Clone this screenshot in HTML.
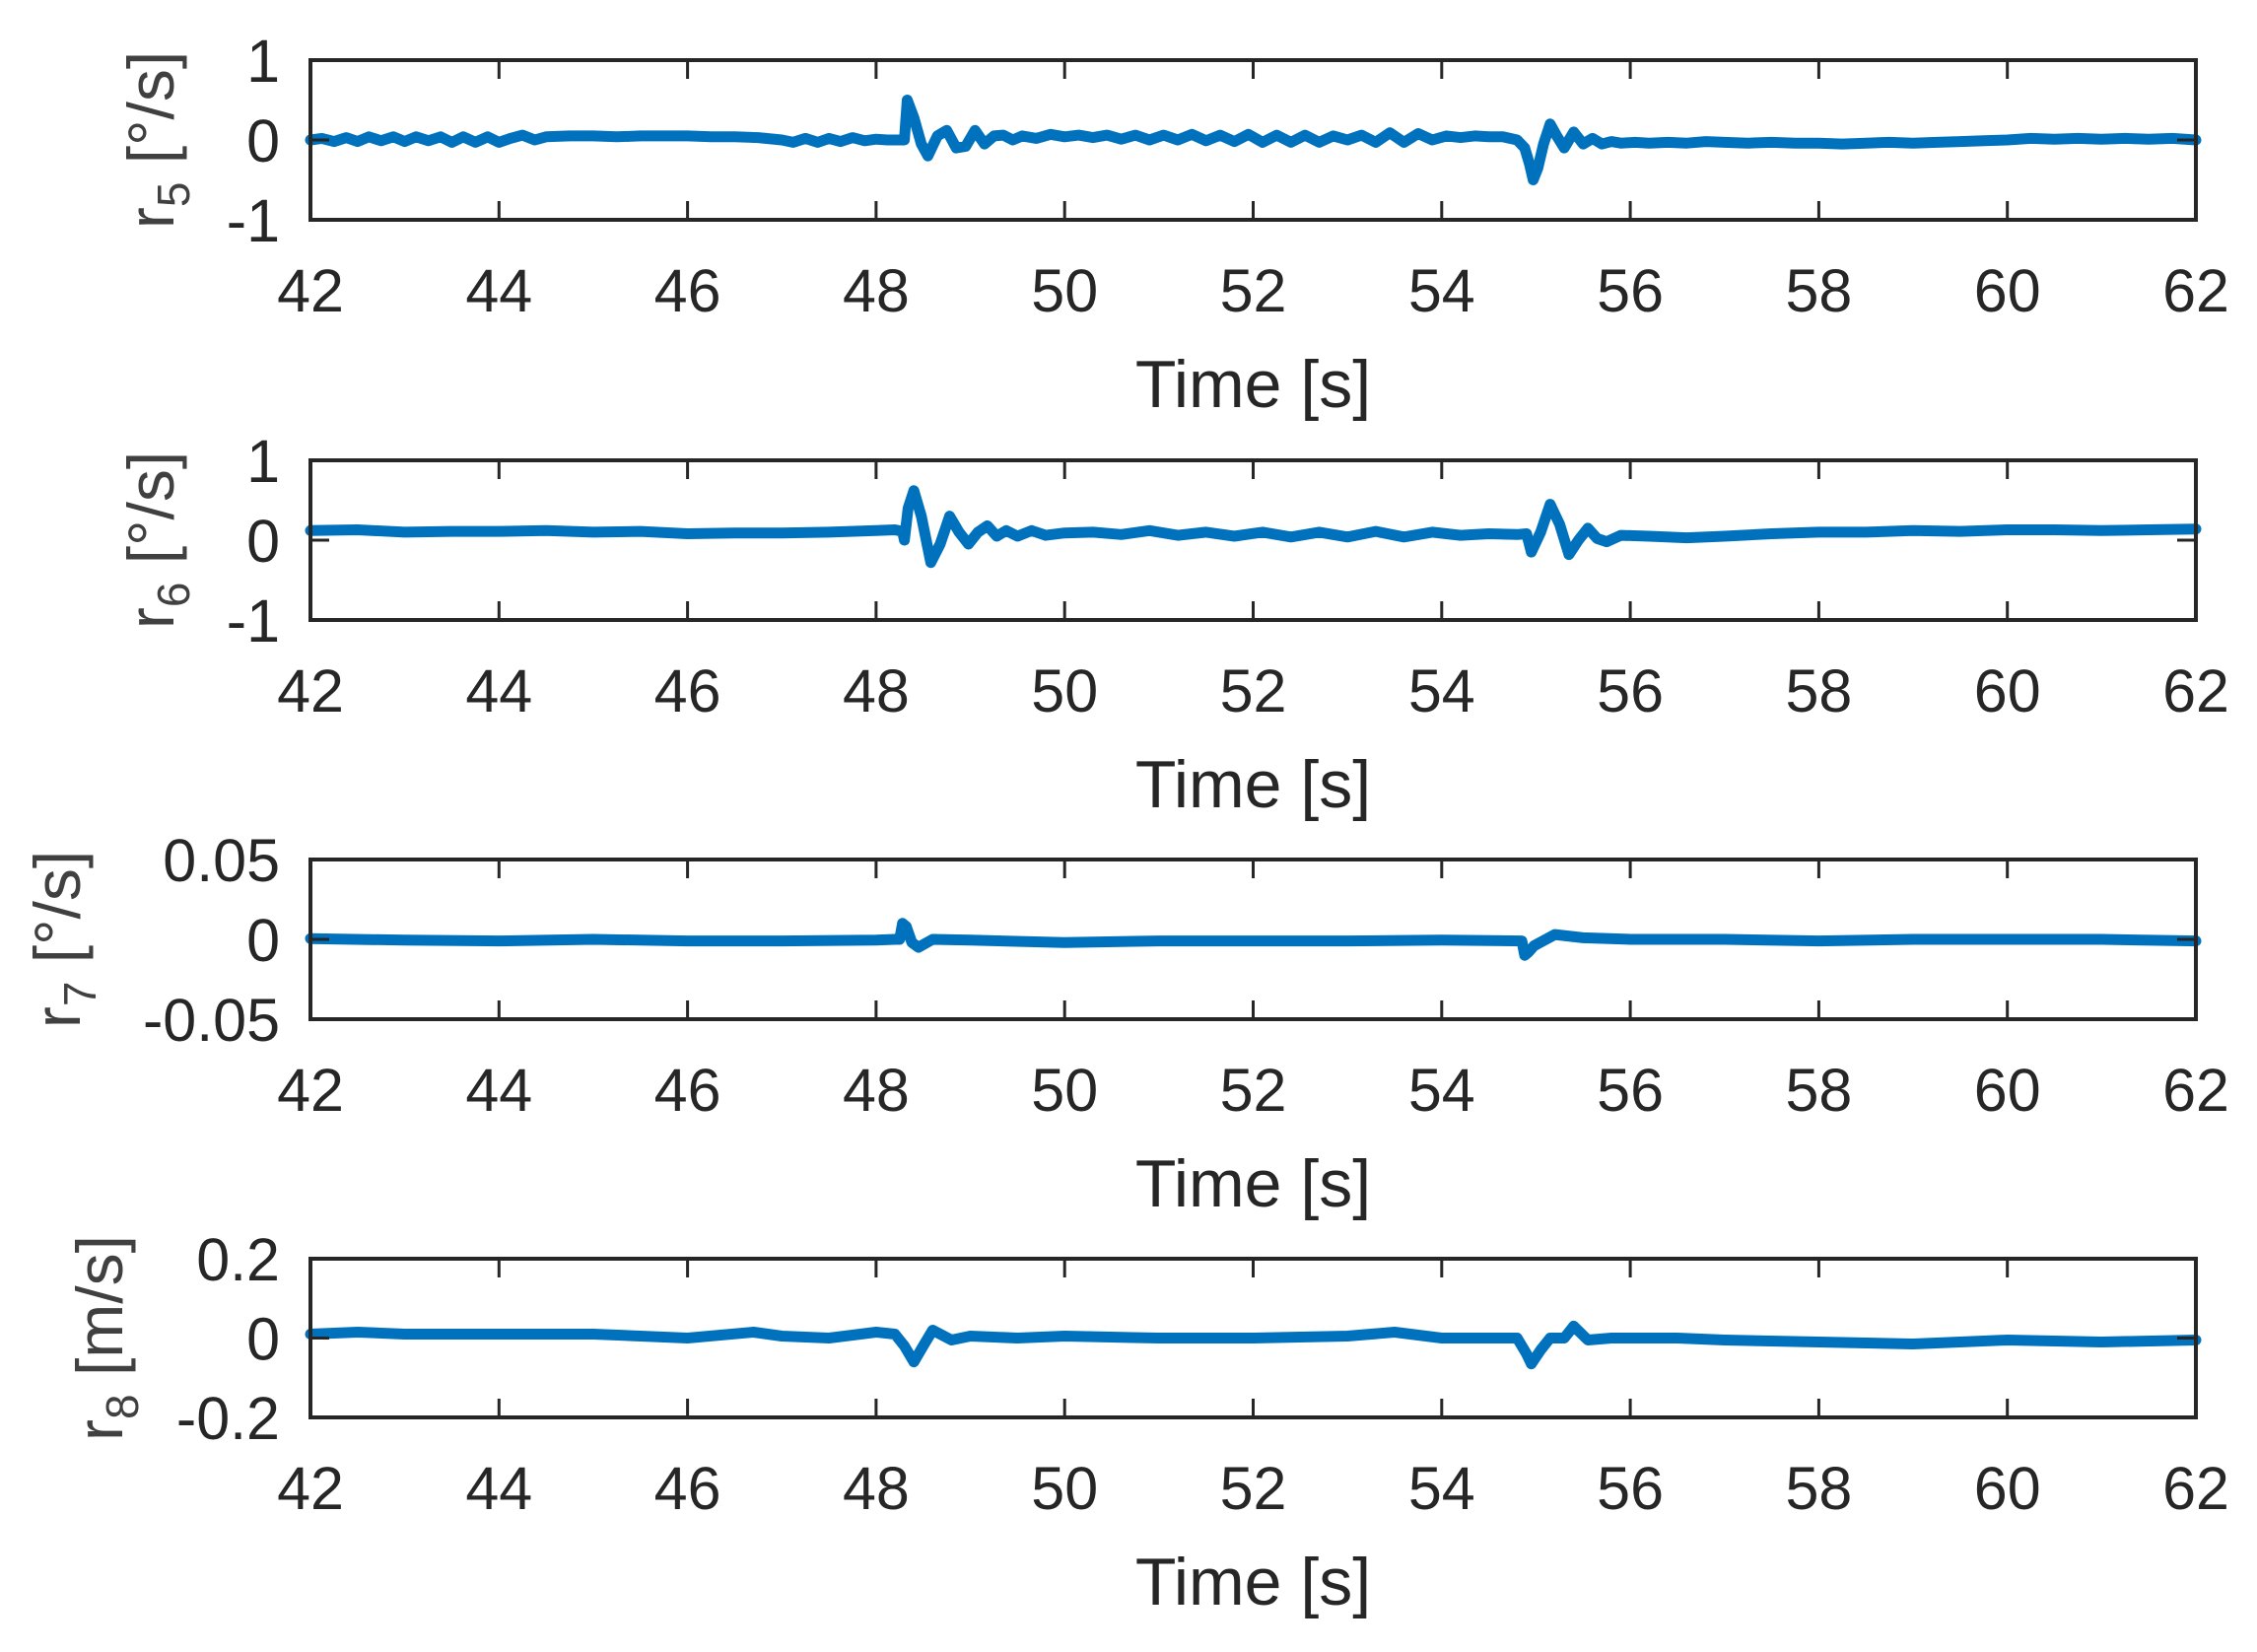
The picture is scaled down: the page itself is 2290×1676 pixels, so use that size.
<!DOCTYPE html>
<html><head><meta charset="utf-8"><style>
html,body{margin:0;padding:0;background:#fff;}
svg{display:block;}
text{font-family:"Liberation Sans",Arial,sans-serif;}
</style></head><body>
<svg id="chart" width="2290" height="1676" viewBox="0 0 2290 1676" xmlns="http://www.w3.org/2000/svg"></svg>
<script>
const xTicks = [42,44,46,48,50,52,54,56,58,60,62];
const r5Times = [42,42.12,42.25,42.38,42.5,42.62,42.75,42.88,43,43.12,43.25,43.38,43.5,43.62,43.75,43.88,44,44.12,44.25,44.38,44.5,44.75,45,45.25,45.5,45.75,46,46.25,46.5,46.75,47,47.12,47.25,47.38,47.5,47.62,47.75,47.88,48,48.12,48.25,48.3,48.33,48.4,48.48,48.55,48.65,48.75,48.85,48.95,49.05,49.15,49.25,49.35,49.45,49.55,49.7,49.85,50,50.15,50.3,50.45,50.6,50.75,50.9,51.05,51.2,51.35,51.5,51.65,51.8,51.95,52.1,52.25,52.4,52.55,52.7,52.85,53,53.15,53.3,53.45,53.6,53.75,53.9,54.05,54.2,54.35,54.5,54.65,54.8,54.88,54.93,54.97,55.02,55.08,55.15,55.22,55.3,55.4,55.5,55.6,55.7,55.8,55.9,56.05,56.2,56.4,56.6,56.8,57,57.25,57.5,57.75,58,58.25,58.5,58.75,59,59.25,59.5,59.75,60,60.25,60.5,60.75,61,61.25,61.5,61.75,62];
const r5Vals = [0,0.02,-0.02,0.03,-0.02,0.04,-0.01,0.04,-0.02,0.04,-0.01,0.04,-0.03,0.04,-0.03,0.04,-0.03,0.02,0.06,0.0,0.04,0.05,0.05,0.04,0.05,0.05,0.05,0.04,0.04,0.03,0.0,-0.03,0.02,-0.03,0.02,-0.02,0.03,-0.01,0.01,0.0,0.0,0.0,0.5,0.28,-0.05,-0.2,0.05,0.12,-0.1,-0.08,0.12,-0.05,0.05,0.06,0.0,0.05,0.02,0.07,0.04,0.06,0.03,0.06,0.01,0.06,0.0,0.06,0.0,0.07,-0.01,0.06,-0.02,0.07,-0.03,0.06,-0.03,0.06,-0.03,0.05,0.0,0.06,-0.03,0.09,-0.03,0.08,0.0,0.05,0.03,0.05,0.04,0.04,0.0,-0.1,-0.3,-0.5,-0.35,-0.05,0.2,0.05,-0.1,0.1,-0.05,0.02,-0.05,-0.02,-0.04,-0.03,-0.04,-0.03,-0.04,-0.02,-0.03,-0.04,-0.03,-0.04,-0.04,-0.05,-0.04,-0.03,-0.04,-0.03,-0.02,-0.01,0.0,0.02,0.01,0.02,0.01,0.02,0.01,0.02,0.0,0.01,0.0];
const r6Times = [42,42.5,43,43.5,44,44.5,45,45.5,46,46.5,47,47.5,48,48.2,48.28,48.3,48.34,48.4,48.48,48.58,48.68,48.78,48.88,48.98,49.08,49.18,49.28,49.38,49.5,49.65,49.8,50,50.3,50.6,50.9,51.2,51.5,51.8,52.1,52.4,52.7,53,53.3,53.6,53.9,54.2,54.5,54.8,54.9,54.95,55.05,55.15,55.25,55.35,55.45,55.55,55.65,55.75,55.9,56.2,56.6,57,57.5,58,58.5,59,59.5,60,60.5,61,61.5,62];
const r6Vals = [0.12,0.13,0.1,0.11,0.11,0.12,0.1,0.11,0.08,0.09,0.09,0.1,0.12,0.13,0.11,0.0,0.4,0.62,0.3,-0.28,-0.05,0.3,0.1,-0.05,0.1,0.18,0.05,0.12,0.05,0.12,0.06,0.09,0.1,0.07,0.12,0.06,0.1,0.05,0.1,0.04,0.1,0.04,0.11,0.04,0.1,0.06,0.08,0.07,0.08,-0.15,0.1,0.45,0.2,-0.18,0.0,0.15,0.02,-0.02,0.06,0.05,0.03,0.05,0.08,0.1,0.1,0.12,0.11,0.13,0.13,0.12,0.13,0.14];
const r7Times = [42,43,44,45,46,47,48,48.2,48.25,48.28,48.32,48.38,48.45,48.6,49,50,51,52,53,54,54.85,54.88,54.92,54.98,55.2,55.5,56,57,58,59,60,61,62];
const r7Vals = [0.0005,-0.0005,-0.001,0.0,-0.001,-0.001,-0.0005,0.0,0.0,0.01,0.008,-0.002,-0.005,0.0,-0.0005,-0.002,-0.001,-0.001,-0.001,-0.0005,-0.001,-0.01,-0.008,-0.004,0.003,0.001,0.0,0.0,-0.001,0.0,0.0,0.0,-0.001];
const r8Times = [42,42.5,43,44,45,46,46.7,47,47.5,48,48.2,48.3,48.4,48.5,48.6,48.8,49,49.5,50,51,52,53,53.5,54,54.8,54.9,54.95,55.05,55.15,55.3,55.4,55.55,55.8,56.5,57,58,59,60,61,62];
const r8Vals = [0.01,0.015,0.01,0.01,0.01,0.0,0.015,0.005,0.0,0.015,0.01,-0.02,-0.06,-0.02,0.02,-0.005,0.005,0.0,0.005,0.0,0.0,0.005,0.015,0.0,0.0,-0.04,-0.065,-0.03,0.0,0.0,0.03,-0.005,0.0,0.0,-0.005,-0.01,-0.015,-0.005,-0.01,-0.005];

const panels = [
 {name:'r5', top:61, bottom:223, ymin:-1, ymax:1, yticks:[-1,0,1], ylabels:['-1','0','1'], sub:'5', unit:'[°/s]', t:r5Times, v:r5Vals, lx:176},
 {name:'r6', top:467, bottom:629, ymin:-1, ymax:1, yticks:[-1,0,1], ylabels:['-1','0','1'], sub:'6', unit:'[°/s]', t:r6Times, v:r6Vals, lx:176},
 {name:'r7', top:872, bottom:1034, ymin:-0.05, ymax:0.05, yticks:[-0.05,0,0.05], ylabels:['-0.05','0','0.05'], sub:'7', unit:'[°/s]', t:r7Times, v:r7Vals, lx:81},
 {name:'r8', top:1277, bottom:1438, ymin:-0.2, ymax:0.2, yticks:[-0.2,0,0.2], ylabels:['-0.2','0','0.2'], sub:'8', unit:'[m/s]', t:r8Times, v:r8Vals, lx:124}
];
const L=315, R=2228;
const NS='http://www.w3.org/2000/svg';
const svg=document.getElementById('chart');
function mk(tag, attrs, parent){const e=document.createElementNS(NS,tag);for(const k in attrs)e.setAttribute(k,attrs[k]);(parent||svg).appendChild(e);return e;}
const xs = x => L + (x-42)/(62-42)*(R-L);

panels.forEach(p=>{
  const g=mk('g',{});
  
  
  const ys = y => p.bottom - (y-p.ymin)/(p.ymax-p.ymin)*(p.bottom-p.top);
  let d='';
  p.t.forEach((t,i)=>{d+=(i?'L':'M')+xs(t).toFixed(1)+','+ys(p.v[i]).toFixed(1);});
  const line=mk('path',{d:d,fill:'none',stroke:'#0072BD','stroke-width':11,'stroke-linejoin':'round','stroke-linecap':'round'},g);
  
  
  const box=mk('rect',{x:L,y:p.top,width:R-L,height:p.bottom-p.top,fill:'none',stroke:'#262626','stroke-width':4},g);
  
  
  xTicks.forEach(t=>{
    const x=xs(t);
    mk('line',{x1:x,x2:x,y1:p.bottom,y2:p.bottom-19,stroke:'#262626','stroke-width':3},g);
    mk('line',{x1:x,x2:x,y1:p.top,y2:p.top+19,stroke:'#262626','stroke-width':3},g);
    const tl=mk('text',{x:x,y:p.bottom+93,'text-anchor':'middle','font-size':61,fill:'#262626'},g);
    tl.textContent=String(t);
    
    
  });
  p.yticks.forEach((t,i)=>{
    const y=ys(t);
    mk('line',{x1:L,x2:L+19,y1:y,y2:y,stroke:'#262626','stroke-width':3},g);
    mk('line',{x1:R,x2:R-19,y1:y,y2:y,stroke:'#262626','stroke-width':3},g);
    const tl=mk('text',{x:284,y:y+22,'text-anchor':'end','font-size':61,fill:'#262626'},g);
    tl.textContent=p.ylabels[i];
    
    
  });
  const xl=mk('text',{x:(L+R)/2,y:p.bottom+190,'text-anchor':'middle','font-size':68,fill:'#262626'},g);
  xl.textContent='Time [s]';
  
  
  const cy=(p.top+p.bottom)/2;
  const yl=mk('text',{x:0,y:0,'text-anchor':'middle','font-size':66,fill:'#404040',transform:'translate('+p.lx+','+cy+') rotate(-90)'},g);
  
  
  const a=document.createElementNS(NS,'tspan');a.textContent='r';yl.appendChild(a);
  const b=document.createElementNS(NS,'tspan');b.setAttribute('dy','16');b.setAttribute('font-size','46');b.textContent=p.sub;yl.appendChild(b);
  const c=document.createElementNS(NS,'tspan');c.setAttribute('dy','-16');c.textContent=' '+p.unit;yl.appendChild(c);
});
</script>
</body></html>
